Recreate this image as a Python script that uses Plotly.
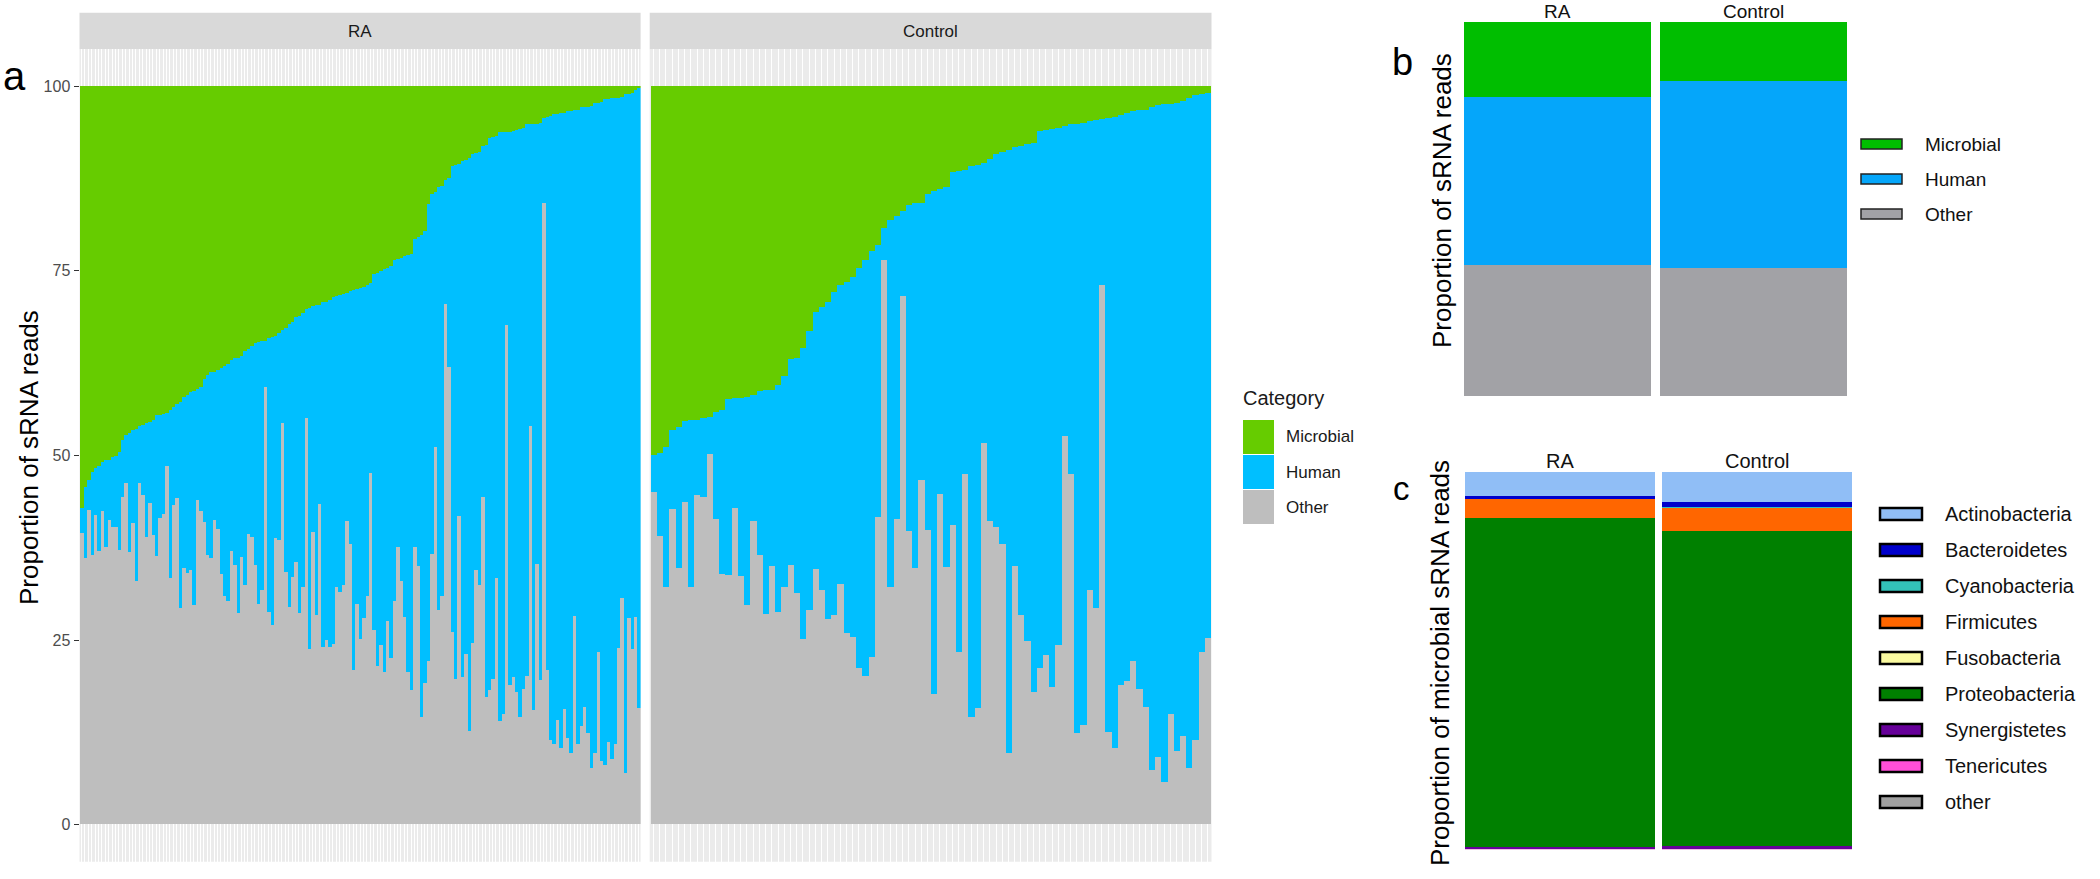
import plotly.graph_objects as go

W, H = 2100, 879

# ---------------- Panel a data (per-sample, percent of sRNA reads) ----------------
# non-microbial share (= Human + Other, top of the blue segment), samples sorted
ra_non_microbial = [
    42.8, 45.7, 46.6, 47.7, 48.2, 48.6, 49.1, 49.3, 49.4, 49.8,
    49.9, 50.4, 52.0, 52.7, 53.0, 53.4, 53.6, 54.0, 54.1, 54.3,
    54.5, 54.7, 55.4, 55.5, 55.6, 55.7, 56.1, 56.5, 56.9, 57.2,
    57.9, 58.2, 58.5, 58.7, 59.0, 59.3, 60.3, 60.8, 61.2, 61.3,
    61.5, 61.8, 62.1, 62.3, 62.9, 63.1, 63.2, 63.4, 64.1, 64.4,
    64.8, 65.2, 65.3, 65.4, 65.5, 65.9, 66.0, 66.2, 66.5, 66.9,
    67.2, 67.8, 68.1, 68.7, 68.9, 69.2, 69.8, 69.9, 70.2, 70.3,
    70.4, 70.7, 70.8, 71.0, 71.4, 71.6, 71.7, 71.8, 72.0, 72.3,
    72.4, 72.5, 72.6, 72.8, 73.0, 73.3, 74.6, 74.7, 74.9, 75.2,
    75.4, 75.6, 76.4, 76.5, 76.7, 77.0, 77.1, 77.3, 79.3, 79.5,
    79.8, 80.4, 84.0, 85.4, 85.6, 86.3, 86.5, 87.2, 87.5, 89.2,
    89.3, 89.4, 89.9, 90.0, 90.2, 90.8, 90.9, 91.0, 91.9, 92.0,
    93.0, 93.1, 93.2, 93.7, 93.7, 93.8, 93.8, 93.9, 94.0, 94.2,
    94.3, 94.8, 94.8, 94.9, 94.9, 95.0, 95.7, 95.8, 95.9, 96.2,
    96.2, 96.3, 96.4, 96.6, 96.6, 96.7, 96.7, 97.1, 97.1, 97.2,
    97.3, 97.7, 97.7, 97.8, 98.2, 98.2, 98.3, 98.4, 98.4, 98.5,
    98.9, 98.9, 99.1, 99.5, 99.7]
ra_other = [
    39.4, 36.1, 42.6, 36.5, 41.9, 37.0, 42.5, 37.6, 41.2, 40.3,
    40.3, 37.2, 44.4, 46.2, 36.9, 40.8, 32.9, 46.2, 44.6, 38.9,
    43.5, 39.2, 36.3, 41.5, 42.0, 48.6, 33.4, 43.2, 44.2, 29.3,
    34.7, 34.0, 34.4, 29.7, 43.9, 42.5, 41.0, 36.5, 36.1, 41.2,
    40.0, 33.9, 31.0, 30.2, 37.0, 35.1, 28.6, 36.2, 32.4, 39.3,
    38.9, 35.1, 29.9, 31.7, 59.3, 28.8, 27.0, 38.8, 38.5, 54.3,
    34.2, 29.5, 33.5, 35.6, 28.6, 32.2, 55.0, 23.8, 39.6, 28.4,
    43.4, 24.0, 25.0, 24.0, 24.5, 32.2, 31.5, 32.4, 41.1, 38.0,
    20.9, 29.9, 25.1, 27.9, 31.0, 47.6, 26.4, 21.4, 24.3, 20.7,
    27.5, 22.5, 30.2, 37.6, 33.0, 28.1, 20.7, 18.2, 37.6, 35.0,
    14.6, 19.2, 22.1, 36.6, 51.1, 29.0, 31.0, 70.5, 62.0, 26.0,
    19.7, 41.8, 20.0, 23.1, 12.6, 24.6, 34.4, 32.4, 44.4, 17.3,
    18.2, 19.7, 33.4, 14.0, 14.9, 67.6, 18.9, 20.0, 18.0, 14.6,
    18.4, 20.1, 54.0, 15.5, 35.3, 19.6, 84.2, 20.9, 11.5, 10.9,
    14.1, 10.4, 15.7, 11.7, 9.7, 28.2, 10.9, 13.4, 15.9, 12.4,
    7.7, 9.7, 23.4, 8.6, 8.0, 11.1, 8.8, 10.9, 23.9, 30.6,
    7.0, 28.0, 23.8, 28.1, 15.8]

ctrl_non_microbial = [
    50.0, 50.3, 51.1, 53.4, 53.8, 54.6, 54.7, 54.7, 55.0, 55.2,
    55.9, 56.1, 57.6, 57.7, 57.7, 57.9, 58.2, 58.7, 58.8, 58.8,
    59.5, 60.7, 63.0, 63.2, 64.5, 66.8, 69.4, 70.1, 70.7, 72.1,
    73.0, 73.4, 74.1, 75.4, 76.4, 77.7, 78.5, 80.8, 81.8, 82.4,
    83.0, 83.9, 84.1, 84.2, 85.3, 85.8, 86.1, 86.3, 88.3, 88.5,
    88.6, 89.1, 89.3, 89.6, 90.1, 90.8, 91.1, 91.3, 91.7, 91.9,
    92.1, 92.3, 93.9, 94.0, 94.2, 94.3, 94.6, 94.8, 94.9, 95.0,
    95.3, 95.4, 95.5, 95.7, 95.8, 96.1, 96.4, 96.6, 96.7, 96.8,
    97.2, 97.4, 97.5, 97.6, 97.7, 98.0, 98.4, 98.8, 98.9, 99.1]
ctrl_other = [
    45.0, 39.1, 32.2, 42.7, 34.7, 43.6, 32.2, 44.6, 44.4, 50.2,
    41.4, 33.9, 33.8, 42.8, 33.6, 29.7, 41.1, 36.5, 28.5, 35.0,
    28.8, 32.1, 35.2, 31.4, 25.1, 29.1, 34.6, 31.7, 27.8, 28.4,
    32.6, 25.9, 25.4, 21.2, 20.1, 22.7, 41.7, 76.4, 32.2, 41.3,
    71.6, 39.8, 34.7, 46.6, 39.9, 17.6, 44.7, 34.8, 40.6, 23.3,
    47.5, 14.6, 15.8, 51.7, 41.1, 40.3, 38.0, 9.7, 35.0, 28.4,
    24.8, 18.0, 21.2, 23.0, 18.6, 24.3, 52.6, 47.5, 12.4, 13.5,
    31.7, 29.3, 73.0, 12.5, 10.4, 18.9, 19.4, 22.1, 18.3, 15.9,
    7.4, 9.2, 5.7, 15.0, 9.9, 12.0, 7.7, 11.5, 23.4, 25.2]

facets = ["RA", "Control"]
categories_a = ["Microbial", "Human", "Other"]
colors_a = {"Microbial": "#66CC00", "Human": "#00BFFF", "Other": "#BEBEBE"}

# ---------------- Panel b data (mean percent) ----------------
groups_b = ["RA", "Control"]
b_microbial = [20.0, 15.7]
b_human = [44.8, 50.0]
b_other = [35.2, 34.3]
colors_b = {"Microbial": "#00BE00", "Human": "#05A6FA", "Other": "#A2A2A6"}

# ---------------- Panel c data (percent of microbial reads) ----------------
phyla = ["Actinobacteria", "Bacteroidetes", "Cyanobacteria", "Firmicutes", "Fusobacteria",
         "Proteobacteria", "Synergistetes", "Tenericutes", "other"]
c_ra = [6.3, 0.8, 0.05, 4.9, 0.05, 87.3, 0.4, 0.1, 0.1]
c_ctrl = [8.0, 1.3, 0.05, 6.2, 0.05, 83.5, 0.7, 0.1, 0.1]
colors_c = ["#90BEF6", "#0000CC", "#33C2B8", "#FF6600", "#FAFAA0",
            "#008000", "#660099", "#FF4FD8", "#A0A0A0"]

FONT = "Liberation Sans"


def px(x):
    return x / W


def py(y):
    return 1 - y / H


fig = go.Figure()

# ---------- panel a bars ----------
facet_data = {
    "RA": (ra_non_microbial, ra_other, "x", "y"),
    "Control": (ctrl_non_microbial, ctrl_other, "x2", "y2"),
}
for name in facets:
    nonmic, oth, xa, ya = facet_data[name]
    idx = list(range(len(nonmic)))
    human = [t - g for t, g in zip(nonmic, oth)]
    micro = [100 - t for t in nonmic]
    for cat, vals in (("Other", oth), ("Human", human), ("Microbial", micro)):
        fig.add_trace(go.Bar(x=idx, y=vals, width=1, xaxis=xa, yaxis=ya,
                             marker=dict(color=colors_a[cat], line=dict(width=0)),
                             showlegend=False, hoverinfo="skip"))

# ---------- panel b bars ----------
w_b = 0.954
xb = list(range(len(groups_b)))
for cat, vals in (("Other", b_other), ("Human", b_human), ("Microbial", b_microbial)):
    fig.add_trace(go.Bar(x=xb, y=vals, width=w_b, xaxis="x3", yaxis="y3",
                         marker=dict(color=colors_b[cat], line=dict(width=0)),
                         showlegend=False, hoverinfo="skip"))

# ---------- panel c bars ----------
w_c = 0.9645
xc = [0, 1]
for k in reversed(range(len(phyla))):
    fig.add_trace(go.Bar(x=xc, y=[c_ra[k], c_ctrl[k]], width=w_c, xaxis="x4", yaxis="y4",
                         marker=dict(color=colors_c[k], line=dict(width=0)),
                         showlegend=False, hoverinfo="skip"))

# ---------- axes ----------
a_y_dom = [py(861.7), py(49.3)]
ra_dom = [px(79.5), px(640.6)]
ct_dom = [px(649.7), px(1211.5)]

grid_x = dict(showticklabels=False, ticks="", showgrid=True, gridcolor="#FFFFFF",
              gridwidth=1, zeroline=False, showline=False, fixedrange=True, tickmode="array")

fig.update_layout(
    xaxis=dict(domain=ra_dom, range=[-0.6, len(ra_non_microbial) - 0.4], anchor="y",
               tickvals=list(range(len(ra_non_microbial))), **grid_x),
    yaxis=dict(domain=a_y_dom, range=[-5, 105], anchor="x", tickmode="array",
               tickvals=[0, 25, 50, 75, 100], ticks="outside", ticklen=5, tickwidth=1.1,
               tickcolor="#333333", tickfont=dict(size=16, color="#4D4D4D", family=FONT),
               showgrid=False, zeroline=False, showline=False, fixedrange=True),
    xaxis2=dict(domain=ct_dom, range=[-0.6, len(ctrl_non_microbial) - 0.4], anchor="y2",
                tickvals=list(range(len(ctrl_non_microbial))), **grid_x),
    yaxis2=dict(domain=a_y_dom, range=[-5, 105], anchor="x2", showticklabels=False,
                ticks="", showgrid=False, zeroline=False, fixedrange=True),
    xaxis3=dict(domain=[px(1464), px(1847)], range=[-w_b / 2, 1 + w_b / 2], anchor="y3",
                visible=False, fixedrange=True),
    yaxis3=dict(domain=[py(396), py(21.7)], range=[0, 100], anchor="x3",
                visible=False, fixedrange=True),
    xaxis4=dict(domain=[px(1465), px(1852)], range=[-w_c / 2, 1 + w_c / 2], anchor="y4",
                visible=False, fixedrange=True),
    yaxis4=dict(domain=[py(849.3), py(471.7)], range=[0, 100], anchor="x4",
                visible=False, fixedrange=True),
)

shapes = []
annotations = []

# panel a backgrounds and strips
for dom, label in ((ra_dom, "RA"), (ct_dom, "Control")):
    shapes.append(dict(type="rect", xref="paper", yref="paper", x0=dom[0], x1=dom[1],
                       y0=a_y_dom[0], y1=a_y_dom[1], fillcolor="#EBEBEB",
                       line=dict(width=0), layer="below"))
    shapes.append(dict(type="rect", xref="paper", yref="paper", x0=dom[0], x1=dom[1],
                       y0=py(49.3), y1=py(12.7), fillcolor="#D9D9D9",
                       line=dict(width=0), layer="below"))
    annotations.append(dict(text=label, xref="paper", yref="paper", x=(dom[0] + dom[1]) / 2,
                            y=py(31), xanchor="center", yanchor="middle", showarrow=False,
                            font=dict(size=17, color="#1A1A1A", family=FONT)))

# panel a y title
annotations.append(dict(text="Proportion of sRNA reads", xref="paper", yref="paper",
                        x=px(29), y=py(458), textangle=-90, showarrow=False,
                        xanchor="center", yanchor="middle",
                        font=dict(size=26, color="#000000", family=FONT)))

# panel a legend
annotations.append(dict(text="Category", xref="paper", yref="paper", x=px(1241), y=py(398),
                        xanchor="left", yanchor="middle", showarrow=False,
                        font=dict(size=20, color="#1A1A1A", family=FONT)))
key_rows = [(420, 454), (455, 489), (490, 524)]
for cat, (y0, y1) in zip(categories_a, key_rows):
    shapes.append(dict(type="rect", xref="paper", yref="paper", x0=px(1243), x1=px(1274),
                       y0=py(y1), y1=py(y0), fillcolor=colors_a[cat], line=dict(width=0)))
    annotations.append(dict(text=cat, xref="paper", yref="paper", x=px(1284),
                            y=py((y0 + y1) / 2), xanchor="left", yanchor="middle",
                            showarrow=False, font=dict(size=17, color="#1A1A1A", family=FONT)))

# panel letters
for letter, xx, yy, sz in (("a", 14, 76, 40), ("b", 1402, 62, 38), ("c", 1401, 489, 33)):
    annotations.append(dict(text=letter, xref="paper", yref="paper", x=px(xx), y=py(yy),
                            xanchor="center", yanchor="middle", showarrow=False,
                            font=dict(size=sz, color="#000000", family=FONT)))

# panel b labels, title, legend
for g, xx in zip(groups_b, (1557.5, 1753.5)):
    annotations.append(dict(text=g, xref="paper", yref="paper", x=px(xx), y=py(11),
                            xanchor="center", yanchor="middle", showarrow=False,
                            font=dict(size=19, color="#111111", family=FONT)))
annotations.append(dict(text="Proportion of sRNA reads", xref="paper", yref="paper",
                        x=px(1442), y=py(201), textangle=-90, showarrow=False,
                        xanchor="center", yanchor="middle",
                        font=dict(size=26, color="#000000", family=FONT)))
for cat, yc in zip(categories_a, (144, 179, 214)):
    shapes.append(dict(type="rect", xref="paper", yref="paper", x0=px(1861), x1=px(1902),
                       y0=py(yc + 5), y1=py(yc - 5), fillcolor=colors_b[cat],
                       line=dict(width=1.5, color="#222222")))
    annotations.append(dict(text=cat, xref="paper", yref="paper", x=px(1923), y=py(yc),
                            xanchor="left", yanchor="middle", showarrow=False,
                            font=dict(size=19, color="#111111", family=FONT)))

# panel c labels, title, legend
for g, xx in zip(groups_b, (1560, 1757)):
    annotations.append(dict(text=g, xref="paper", yref="paper", x=px(xx), y=py(461),
                            xanchor="center", yanchor="middle", showarrow=False,
                            font=dict(size=20, color="#111111", family=FONT)))
annotations.append(dict(text="Proportion of microbial sRNA reads", xref="paper", yref="paper",
                        x=px(1440), y=py(663), textangle=-90, showarrow=False,
                        xanchor="center", yanchor="middle",
                        font=dict(size=26, color="#000000", family=FONT)))
for k, name in enumerate(phyla):
    yc = 514 + k * 36
    shapes.append(dict(type="rect", xref="paper", yref="paper", x0=px(1880), x1=px(1922),
                       y0=py(yc + 6), y1=py(yc - 6), fillcolor=colors_c[k],
                       line=dict(width=2.5, color="#000000")))
    annotations.append(dict(text=name, xref="paper", yref="paper", x=px(1943), y=py(yc),
                            xanchor="left", yanchor="middle", showarrow=False,
                            font=dict(size=20, color="#111111", family=FONT)))

fig.update_layout(
    width=W, height=H, autosize=False,
    margin=dict(l=0, r=0, t=0, b=0),
    paper_bgcolor="#FFFFFF", plot_bgcolor="rgba(0,0,0,0)",
    barmode="stack", bargap=0,
    showlegend=False,
    shapes=shapes, annotations=annotations,
    font=dict(family=FONT),
)

fig.write_html("out.html",
               config={"displayModeBar": False, "staticPlot": False},
               post_script="document.body.style.margin='0px';document.body.style.overflow='hidden';")
